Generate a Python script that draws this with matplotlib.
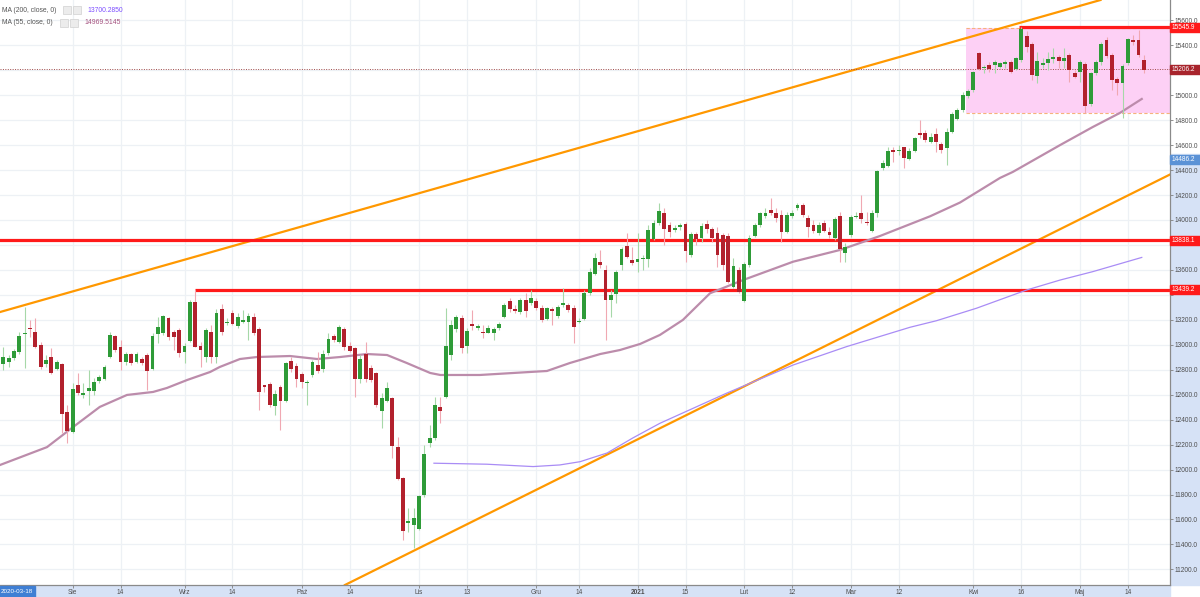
import numpy as np
import matplotlib
matplotlib.use('Agg')
import matplotlib.pyplot as plt
from matplotlib.patches import Rectangle

plt.rcParams['font.family'] = ['Liberation Sans', 'DejaVu Sans']

# daily candles, Aug 2020 - May 2021
opens = [12844, 12865, 12892, 12940, 13085, 13137, 13100, 12998, 12846, 12905,
         12809, 12844, 12459, 12299, 12675, 12595, 12627, 12633, 12707, 12729,
         12900, 13073, 12980, 12865, 12924, 12860, 12884, 12918, 12804, 13087,
         13092, 13212, 13105, 13119, 12942, 13033, 13346, 12993, 12905, 13105,
         12900, 13290, 13172, 13258, 13151, 13180, 13186, 13220, 13127, 12673,
         12686, 12510, 12659, 12553, 12873, 12833, 12766, 12690, 12758, 12838,
         12804, 12932, 13071, 13025, 13124, 12990, 12972, 12723, 12926, 12817,
         12772, 12472, 12553, 12571, 12179, 11935, 11575, 11556, 11524, 11797,
         12216, 12250, 12499, 12584, 12918, 13124, 13217, 12990, 13167, 13138,
         13105, 13097, 13092, 13135, 13220, 13351, 13284, 13263, 13359, 13338,
         13351, 13295, 13207, 13287, 13231, 13322, 13319, 13298, 13183, 13210,
         13413, 13567, 13666, 13599, 13359, 13404, 13637, 13794, 13679, 13666,
         13685, 13685, 13845, 13979, 14059, 13960, 13920, 13941, 13968, 13720,
         13888, 13853, 13968, 13925, 13893, 13880, 13875, 13466, 13600, 13351,
         13640, 13872, 13960, 14035, 14080, 14054, 14040, 13907, 14032, 14094,
         14120, 14019, 13960, 13899, 13973, 13907, 13853, 14032, 13738, 13880,
         14021, 14054, 13987, 13915, 14054, 14414, 14435, 14561, 14553, 14582,
         14489, 14553, 14700, 14700, 14628, 14689, 14607, 14580, 14708, 14809,
         14881, 14996, 15042, 15341, 15215, 15242, 15242, 15229, 15247, 15263,
         15210, 15282, 15477, 15408, 15157, 15242, 15255, 15290, 15303, 15277,
         15322, 15175, 15189, 15247, 14927, 15175, 15264, 15442, 15322, 15127,
         15095, 15255, 15442, 15442, 15282]
highs = [12985, 12918, 12970, 13105, 13306, 13199, 13212, 13025, 12918, 12972,
         12878, 12852, 12518, 12691, 12771, 12691, 12798, 12732, 12758, 12838,
         13105, 13079, 13039, 12945, 12932, 12945, 12900, 12932, 13092, 13226,
         13239, 13226, 13119, 13132, 13012, 13359, 13439, 13025, 13132, 13160,
         13290, 13330, 13212, 13279, 13252, 13279, 13252, 13252, 13145, 12678,
         12705, 12638, 12678, 12865, 12905, 12852, 12785, 12718, 12878, 12945,
         12958, 13092, 13087, 13159, 13145, 13025, 12980, 12918, 13025, 12838,
         12785, 12611, 12705, 12585, 12264, 11943, 11690, 11690, 11797, 12197,
         12357, 12585, 12585, 13292, 13199, 13239, 13239, 13132, 13279, 13170,
         13159, 13159, 13145, 13185, 13332, 13372, 13319, 13372, 13412, 13439,
         13372, 13319, 13306, 13306, 13319, 13452, 13332, 13319, 13212, 13439,
         13613, 13738, 13760, 13639, 13439, 13599, 13786, 13893, 13786, 13893,
         13720, 13960, 14000, 14134, 14094, 13987, 13960, 13973, 13987, 13907,
         13907, 13973, 14000, 13947, 13947, 13893, 13893, 13693, 13626, 13666,
         13880, 13973, 14067, 14094, 14174, 14094, 14080, 14067, 14080, 14139,
         14134, 14040, 14000, 13987, 14000, 13947, 14027, 14067, 13813, 14040,
         14067, 14200, 14067, 14080, 14400, 14480, 14588, 14588, 14600, 14588,
         14574, 14668, 14801, 14721, 14694, 14735, 14628, 14735, 14868, 14895,
         15028, 15050, 15194, 15349, 15242, 15269, 15282, 15269, 15282, 15282,
         15309, 15546, 15515, 15429, 15349, 15296, 15349, 15376, 15322, 15376,
         15336, 15202, 15282, 15269, 15189, 15282, 15429, 15469, 15336, 15149,
         15247, 15461, 15482, 15523, 15322]
lows = [12798, 12825, 12880, 12930, 12812, 13065, 12972, 12806, 12825, 12766,
        12798, 12291, 12211, 12290, 12598, 12571, 12518, 12598, 12691, 12718,
        12892, 12945, 12798, 12838, 12838, 12852, 12838, 12638, 12798, 13012,
        13079, 13039, 12958, 12900, 12852, 13025, 12980, 12825, 12865, 12852,
        12852, 13080, 13159, 13159, 13132, 13172, 13039, 13079, 12478, 12625,
        12504, 12438, 12317, 12545, 12785, 12665, 12651, 12518, 12745, 12772,
        12785, 12918, 13025, 13012, 12958, 12945, 12585, 12691, 12705, 12705,
        12504, 12331, 12545, 12090, 11917, 11436, 11503, 11369, 11516, 11783,
        12184, 12240, 12371, 12571, 12878, 13105, 12932, 12932, 13119, 13120,
        13052, 13092, 13039, 13119, 13212, 13266, 13252, 13247, 13226, 13319,
        13279, 13186, 13199, 13159, 13212, 13306, 13266, 13012, 13172, 13199,
        13399, 13559, 13613, 13039, 13226, 13332, 13599, 13693, 13639, 13586,
        13600, 13626, 13840, 13960, 13800, 13867, 13907, 13920, 13666, 13706,
        13800, 13826, 13893, 13827, 13626, 13600, 13493, 13453, 13413, 13346,
        13626, 13867, 13947, 14013, 14040, 13987, 13826, 13893, 14013, 14080,
        14027, 13867, 13893, 13880, 13907, 13853, 13840, 13666, 13666, 13867,
        14013, 13973, 13960, 13907, 14027, 14400, 14428, 14468, 14520, 14414,
        14481, 14542, 14654, 14628, 14614, 14548, 14534, 14441, 14694, 14801,
        14868, 14975, 15028, 15202, 15175, 15189, 15175, 15215, 15215, 15175,
        15202, 15269, 15349, 15122, 15095, 15215, 15202, 15256, 15215, 15215,
        15108, 15135, 15108, 14855, 14916, 15162, 15242, 15296, 15042, 15002,
        14815, 15242, 15403, 15309, 15175]
closes = [12900, 12892, 12953, 13073, 13090, 13127, 12985, 12820, 12878, 12771,
          12860, 12446, 12312, 12649, 12617, 12617, 12654, 12702, 12745, 12825,
          13079, 12958, 12865, 12924, 12857, 12924, 12857, 12793, 13073, 13145,
          13231, 13065, 13060, 12937, 12990, 13346, 12985, 12958, 13119, 12900,
          13258, 13105, 13180, 13167, 13220, 13199, 13231, 13097, 12625, 12665,
          12518, 12606, 12553, 12852, 12804, 12723, 12705, 12697, 12865, 12790,
          12926, 13047, 13039, 13140, 12980, 12953, 12723, 12886, 12723, 12718,
          12518, 12577, 12651, 12189, 11927, 11511, 11580, 11610, 11789, 12125,
          12250, 12518, 12472, 12990, 13159, 13225, 12972, 13113, 13151, 13142,
          13097, 13137, 13124, 13167, 13316, 13290, 13274, 13359, 13274, 13378,
          13298, 13199, 13298, 13271, 13306, 13327, 13279, 13145, 13188, 13418,
          13586, 13693, 13637, 13359, 13399, 13581, 13768, 13701, 13653, 13690,
          13693, 13920, 13979, 14075, 13925, 13907, 13939, 13960, 13754, 13885,
          13845, 13952, 13925, 13859, 13720, 13640, 13506, 13634, 13426, 13647,
          13859, 13960, 14054, 14059, 14059, 14014, 13907, 14040, 14059, 14120,
          14040, 13941, 13915, 13960, 13912, 13880, 14005, 13768, 13786, 14027,
          14032, 14005, 13973, 14054, 14390, 14454, 14553, 14548, 14558, 14500,
          14553, 14654, 14681, 14641, 14668, 14628, 14561, 14708, 14852, 14879,
          15002, 15036, 15183, 15210, 15229, 15210, 15269, 15256, 15263, 15189,
          15296, 15531, 15389, 15162, 15277, 15255, 15288, 15303, 15277, 15296,
          15202, 15149, 15264, 14916, 15175, 15264, 15408, 15317, 15122, 15095,
          15237, 15450, 15429, 15322, 15206]

# moving averages, read at points along the lines (candle index, price)
ma55_idx = [-0.6, 8.2, 13.1, 18.1, 23.2, 28.1, 30.7, 34.5, 38.8, 40.6, 44.4,
            47.6, 53.8, 58.9, 63.2, 68.2, 72.0, 75.7, 80.1, 82.0, 89.4, 98.8,
            102.0, 106.3, 112.0, 115.7, 119.5, 123.2, 127.5, 132.6, 138.8,
            148.2, 157.0, 161.3, 164.5, 173.9, 179.5, 187.0, 189.4, 198.3,
            204.4, 209.5, 213.6]
ma55_val = [12037, 12180, 12341, 12502, 12598, 12622, 12654, 12718, 12782,
            12822, 12886, 12902, 12910, 12886, 12902, 12926, 12918, 12854,
            12774, 12758, 12758, 12782, 12790, 12854, 12926, 12958, 13007,
            13079, 13199, 13413, 13519, 13666, 13760, 13824, 13872, 14030,
            14140, 14337, 14385, 14601, 14745, 14858, 14970]
ma200_idx = [80.8, 90.7, 99.4, 104.4, 108.2, 113.3, 118.1, 123.2, 135.7,
             148.2, 158.2, 170.1, 175.1, 182.6, 192.0, 198.3, 204.4, 213.6]
ma200_val = [12051, 12043, 12024, 12037, 12063, 12133, 12253, 12371, 12612,
             12838, 12985, 13140, 13193, 13293, 13439, 13519, 13586, 13700]

tick_pos = [13, 22, 34, 43, 56, 65, 78, 87, 100, 108, 119, 128, 139, 148,
            159, 168, 182, 191, 202, 211]
tick_labels = ['Sie', '14', 'Wrz', '14', 'Paź', '14', 'Lis', '13', 'Gru', '14',
               '2021', '15', 'Lut', '12', 'Mar', '12', 'Kwi', '16', 'Maj', '14']
price_ticks = list(range(11200, 15601, 200))
covered_ticks = [15200, 13800, 13400]   # hidden under the price boxes

level_prices = [15545.9, 13838.1, 13439.2]
level_start = [190.5, -5, 36]
upper_trend = [(0, 13270), (200, 15692)]
lower_trend = [(80, 11413), (200, 13963)]
zone_left, zone_low, zone_high = 180.6, 14860, 15536
last_price = 15206.2
cross_price = 14486.2

W, H = 1200, 597
y_lo, y_hi = 11075, 15763
x_lo, x_hi = -0.62, 218.9
ax_l, ax_b, ax_w, ax_h = 0, 12 / H, 1170 / W, 585 / H

fig = plt.figure(figsize=(W / 100, H / 100), dpi=100)
ax = fig.add_axes([ax_l, ax_b, ax_w, ax_h])
ax.set_xlim(x_lo, x_hi)
ax.set_ylim(y_lo, y_hi)
ax.set_axisbelow(True)

grid_c = '#edf1f5'
ax.set_xticks(tick_pos)
ax.set_xticklabels(tick_labels)
for lab in ax.get_xticklabels():
    if lab.get_text() == '2021':
        lab.set_fontweight('bold')
ax.set_yticks(price_ticks)
ax.set_yticklabels(['' if t in covered_ticks else f'{t:.1f}' for t in price_ticks])
ax.yaxis.tick_right()
ax.grid(True, color=grid_c, lw=0.9)
ax.tick_params(axis='both', labelsize=4.7, colors='#7f7f7f', labelcolor='#4d4d4d',
               length=2, width=0.6, pad=1.2)
for s in ['top', 'left']:
    ax.spines[s].set_visible(False)
for s in ['right', 'bottom']:
    ax.spines[s].set_color('#8a8a8a')
    ax.spines[s].set_linewidth(0.9)

# side bands
fig.patches.append(Rectangle((0, 0), ax_w, ax_b, transform=fig.transFigure,
                             color='#d6e2f6', zorder=-1))
y_cross_top = ax_b + (cross_price - y_lo) / (y_hi - y_lo) * ax_h + 5 / H
fig.patches.append(Rectangle((ax_w, ax_b), 1 - ax_w, y_cross_top - ax_b,
                             transform=fig.transFigure, color='#d6e2f6', zorder=-1))

# zone
ax.add_patch(Rectangle((zone_left, zone_low), 60, zone_high - zone_low,
                       facecolor='#fdd0f5', edgecolor='none', zorder=1))
for yv in (zone_low, zone_high):
    ax.plot([zone_left, 240], [yv, yv], color='#f6b27c', lw=0.8,
            ls=(0, (3, 2)), zorder=1.5)

# trend lines and levels
ax.axline(upper_trend[0], upper_trend[1], color='#ff9800', lw=1.6, zorder=2)
ax.axline(lower_trend[0], lower_trend[1], color='#ff9800', lw=1.6, zorder=2)
for p, s in zip(level_prices, level_start):
    ax.plot([s, 240], [p, p], color='#ff1a1a', lw=2.3, zorder=2.2,
            solid_capstyle='butt')
ax.axhline(last_price, color='#a04a4a', lw=0.7, ls=(0, (1, 1.5)), zorder=2.1)

# moving averages
ax.plot(ma55_idx, ma55_val, color='#bc8cab', lw=1.6, zorder=2.5)
ax.plot(ma200_idx, ma200_val, color='#a98cf5', lw=0.9, zorder=2.5)

# candles
o = np.array(opens, float)
h = np.array(highs, float)
l = np.array(lows, float)
c = np.array(closes, float)
x = np.arange(len(o))
up = c >= o
ax.vlines(x[up], l[up], h[up], color='#a6d8a8', lw=0.8, zorder=3)
ax.vlines(x[~up], l[~up], h[~up], color='#f0a8b2', lw=0.8, zorder=3)
body_lo = np.minimum(o, c)
body_h = np.maximum(np.abs(c - o), 9)
ax.bar(x[up], body_h[up], bottom=body_lo[up], width=0.72, color='#2e9b38',
       linewidth=0, zorder=4)
ax.bar(x[~up], body_h[~up], bottom=body_lo[~up], width=0.72, color='#b2212d',
       linewidth=0, zorder=4)


def fig_y(p):
    return ax_b + (p - y_lo) / (y_hi - y_lo) * ax_h


def price_box(p, color):
    bh = 9 / H
    fig.patches.append(Rectangle((ax_w, fig_y(p) - bh / 2), 1 - ax_w, bh,
                                 transform=fig.transFigure, color=color, zorder=5))
    fig.text(ax_w + 2 / W, fig_y(p), f'{p:.1f}', color='white', fontsize=4.7,
             va='center', ha='left', zorder=6)


price_box(level_prices[0], '#ff1a1a')
price_box(last_price, '#a8242c')
price_box(cross_price, '#5b92d6')
price_box(level_prices[1], '#ff1a1a')
price_box(level_prices[2], '#ff1a1a')

# crosshair date box
fig.patches.append(Rectangle((0, 0), 35 / W, 11 / H, transform=fig.transFigure,
                             color='#3f7fd4', zorder=5))
fig.text(17 / W, 5.5 / H, '2020-03-18', color='white', fontsize=4.5,
         ha='center', va='center', zorder=6)

# indicator legend
legend_rows = [('MA (200, close, 0)', 63, '13700.2850', '#7c4dff', 10),
               ('MA (55, close, 0)', 60, '14969.5145', '#a4507e', 23)]
for name, ix, val, vc, py in legend_rows:
    fy = 1 - py / H
    fig.text(2 / W, fy, name, color='#555555', fontsize=4.9, va='center')
    for k in range(2):
        fig.patches.append(Rectangle(((ix + k * 10) / W, fy - 4 / H), 8 / W, 8 / H,
                                     transform=fig.transFigure, facecolor='#ececec',
                                     edgecolor='#d0d0d0', lw=0.5, zorder=5))
    fig.text((ix + 24) / W, fy, val, color=vc, fontsize=4.9, va='center')

fig.savefig('out.png', dpi=100)
